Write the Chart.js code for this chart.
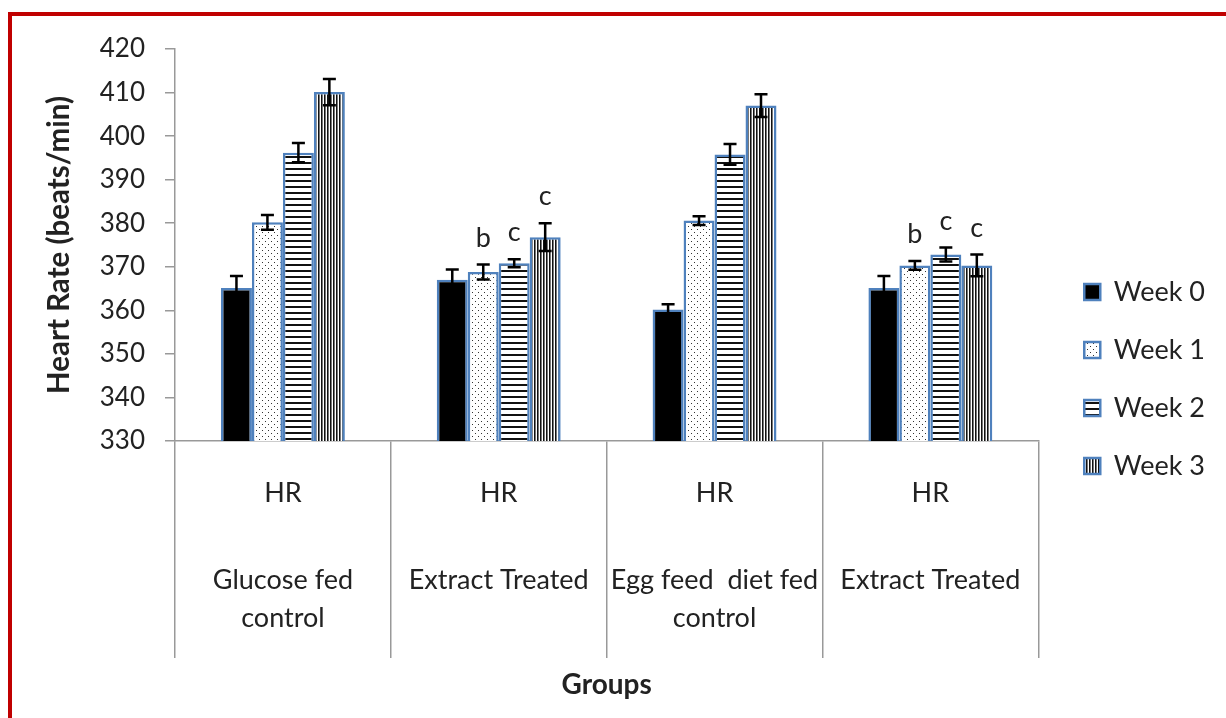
<!DOCTYPE html>
<html>
<head>
<meta charset="utf-8">
<script src="https://cdn.jsdelivr.net/npm/chart.js@4.4.1/dist/chart.umd.min.js"></script>
<style>
  html, body { margin: 0; padding: 0; background: #fff; overflow: hidden; }
  #frame { position: absolute; left: 8px; top: 12px; width: 1240px; height: 730px;
           border-top: 4px solid #C00000; border-left: 4px solid #C00000; }
  #c { position: absolute; left: 0; top: 0; }
</style>
</head>
<body>
<div id="frame"></div>
<canvas id="c" width="1226" height="718"></canvas>
<script>
// Heart rate per group, weeks 0-3 (mean +/- error)
var groups = ['Glucose fed control', 'Extract Treated', 'Egg feed  diet fed control', 'Extract Treated'];
var groupLines = [['Glucose fed', 'control'], ['Extract Treated'], ['Egg feed  diet fed', 'control'], ['Extract Treated']];
var subLabel = 'HR';
var weeks = ['Week 0', 'Week 1', 'Week 2', 'Week 3'];

var week0 = [365.1, 367.0, 360.2, 365.1];
var week1 = [380.2, 368.8, 380.6, 370.3];
var week2 = [396.2, 370.8, 395.8, 372.8];
var week3 = [410.1, 376.8, 407.0, 370.3];

var err0 = [2.8, 2.4, 1.2, 2.8];
var err1 = [1.7, 1.7, 1.0, 1.0];
var err2 = [2.2, 0.9, 2.4, 1.6];
var err3 = [3.0, 3.2, 2.6, 2.5];

var sig0 = ['', '', '', ''];
var sig1 = ['', 'b', '', 'b'];
var sig2 = ['', 'c', '', 'c'];
var sig3 = ['', 'c', '', 'c'];

var yTicks = [330, 340, 350, 360, 370, 380, 390, 400, 410, 420];

var FONT = 'Lato';
var TEXT = '#222';
var BLUE = '#4F81BD';

// hatch fills, like the excel pattern fills
function makePattern(kind) {
  var t = document.createElement('canvas');
  var g = t.getContext('2d');
  if (kind == 'solid') {
    return '#000';
  }
  if (kind == 'dots') {
    t.width = 6; t.height = 6;
    g.fillStyle = '#fff'; g.fillRect(0, 0, 6, 6);
    g.fillStyle = '#333';
    g.fillRect(1, 1, 1, 1);
    g.fillRect(4, 4, 1, 1);
  } else if (kind == 'hlines') {
    t.width = 6; t.height = 6;
    g.fillStyle = '#fff'; g.fillRect(0, 0, 6, 6);
    g.fillStyle = '#111'; g.fillRect(0, 0, 6, 2);
  } else {
    t.width = 3; t.height = 3;
    g.fillStyle = '#fff'; g.fillRect(0, 0, 3, 3);
    g.fillStyle = '#111'; g.fillRect(0, 0, 1, 3);
    g.fillStyle = '#777'; g.fillRect(1, 0, 1, 3);
  }
  return g.createPattern(t, 'repeat');
}

var ctx = document.getElementById('c').getContext('2d');
var fills = [makePattern('solid'), makePattern('dots'), makePattern('hlines'), makePattern('vlines')];
var values = [week0, week1, week2, week3];
var errors = [err0, err1, err2, err3];
var sigs = [sig0, sig1, sig2, sig3];

var datasets = weeks.map(function (w, k) {
  return {
    label: w,
    data: values[k],
    backgroundColor: fills[k],
    borderColor: BLUE,
    borderWidth: 2.5,
    categoryPercentage: 0.574,
    barPercentage: 1.0
  };
});

var errorBars = {
  id: 'errorBars',
  afterDatasetsDraw: function (chart) {
    var c = chart.ctx, y = chart.scales.y;
    c.save();
    c.strokeStyle = '#000';
    c.lineWidth = 2.5;
    for (var k = 0; k < datasets.length; k++) {
      var meta = chart.getDatasetMeta(k);
      meta.data.forEach(function (bar, i) {
        var v = values[k][i], e = errors[k][i];
        var top = y.getPixelForValue(v + e), bot = y.getPixelForValue(v - e);
        c.beginPath();
        c.moveTo(bar.x, top); c.lineTo(bar.x, bot);
        c.moveTo(bar.x - 6.5, top); c.lineTo(bar.x + 6.5, top);
        c.moveTo(bar.x - 6.5, bot); c.lineTo(bar.x + 6.5, bot);
        c.stroke();
        if (sigs[k][i]) {
          c.fillStyle = TEXT;
          c.font = '27px ' + FONT;
          c.textAlign = 'center';
          c.textBaseline = 'alphabetic';
          c.fillText(sigs[k][i], bar.x, top - 18);
        }
      });
    }
    c.restore();
  }
};

var groupLabels = {
  id: 'groupLabels',
  afterDraw: function (chart) {
    var c = chart.ctx, x = chart.scales.x;
    c.save();
    c.fillStyle = TEXT;
    c.textAlign = 'center';
    c.textBaseline = 'middle';
    c.font = '27px ' + FONT;
    groups.forEach(function (gname, i) {
      var cx = x.getPixelForValue(i);
      c.fillText(subLabel, cx, 493);
      groupLines[i].forEach(function (line, j) {
        c.fillText(line, cx, 580 + j * 38);
      });
    });
    c.restore();
  }
};

// push the legend a bit further from the plot, as in the original
var legendShift = {
  id: 'legendShift',
  afterLayout: function (chart) {
    chart.legend.left += 15;
    chart.legend.right += 15;
  }
};

new Chart(ctx, {
  type: 'bar',
  data: { labels: groups, datasets: datasets },
  options: {
    responsive: false,
    animation: false,
    layout: { padding: { left: 12, top: 49, right: 26, bottom: 9 } },
    plugins: {
      legend: {
        position: 'right',
        labels: { font: { family: FONT, size: 27 }, color: TEXT, boxWidth: 16, boxHeight: 16, padding: 31 }
      },
      tooltip: { enabled: false }
    },
    scales: {
      x: {
        grid: { offset: true, drawOnChartArea: false, drawTicks: true, tickLength: 217, color: '#999', lineWidth: 1.5 },
        border: { color: '#999', width: 1.5 },
        ticks: { display: false },
        title: { display: true, text: 'Groups', color: TEXT, font: { family: FONT, size: 28, weight: 'bold' }, padding: { top: 0, bottom: 7 } },
        afterFit: function (s) { s.height = 268; }
      },
      y: {
        min: yTicks[0],
        max: yTicks[yTicks.length - 1],
        afterBuildTicks: function (s) { s.ticks = yTicks.map(function (v) { return { value: v }; }); },
        ticks: { font: { family: FONT, size: 26 }, color: TEXT, padding: 20 },
        grid: { drawOnChartArea: false, tickLength: 10, color: '#999', lineWidth: 1.5 },
        border: { color: '#999', width: 1.5 },
        title: { display: true, text: 'Heart Rate (beats/min)', color: TEXT, font: { family: FONT, size: 29.5, weight: 'bold' }, padding: { top: 30, bottom: 0 } },
        afterFit: function (s) { s.width = 163; }
      }
    }
  },
  plugins: [errorBars, groupLabels, legendShift]
});
</script>
</body>
</html>
